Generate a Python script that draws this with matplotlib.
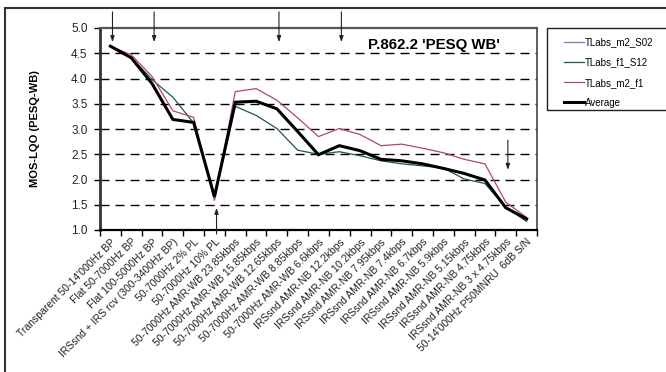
import matplotlib.pyplot as plt
from matplotlib.patches import Rectangle

plt.rcParams["font.family"] = ["Liberation Sans", "DejaVu Sans"]

conditions = [
    "Transparent 50-14'000Hz BP",
    "Flat 50-7000Hz BP",
    "Flat 100-5000Hz BP",
    "IRSsnd + IRS rcv (300-3400Hz BP)",
    "50-7000Hz 2% PL",
    "50-7000Hz 10% PL",
    "50-7000Hz AMR-WB 23.85kbps",
    "50-7000Hz AMR-WB 15.85kbps",
    "50-7000Hz AMR-WB 12.65kbps",
    "50-7000Hz AMR-WB 8.85kbps",
    "50-7000Hz AMR-WB 6.6kbps",
    "IRSsnd AMR-NB 12.2kbps",
    "IRSsnd AMR-NB 10.2kbps",
    "IRSsnd AMR-NB 7.95kbps",
    "IRSsnd AMR-NB 7.4kbps",
    "IRSsnd AMR-NB 6.7kbps",
    "IRSsnd AMR-NB 5.9kbps",
    "IRSsnd AMR-NB 5.15kbps",
    "IRSsnd AMR-NB 4.75kbps",
    "IRSsnd AMR-NB 3 x 4.75kbps",
    "50-14'000Hz P50MNRU  6dB S/N",
]

tlabs_m2_s02 = [4.64, 4.41, 3.90, 3.19, 3.13, 1.66, 3.53, 3.55, 3.40, 2.95, 2.49,
                2.67, 2.57, 2.40, 2.37, 2.31, 2.22, 2.12, 1.99, 1.44, 1.22]
tlabs_f1_s12 = [4.64, 4.42, 3.98, 3.63, 3.12, 1.62, 3.45, 3.27, 3.01, 2.58, 2.50,
                2.55, 2.47, 2.37, 2.31, 2.27, 2.23, 2.01, 1.92, 1.45, 1.17]
tlabs_m2_f1 = [4.64, 4.47, 4.04, 3.36, 3.23, 1.58, 3.74, 3.80, 3.57, 3.22, 2.85,
               3.01, 2.89, 2.67, 2.70, 2.62, 2.53, 2.40, 2.31, 1.55, 1.25]
average = [4.64, 4.41, 3.90, 3.19, 3.13, 1.66, 3.53, 3.55, 3.40, 2.95, 2.49,
           2.67, 2.57, 2.40, 2.37, 2.31, 2.22, 2.12, 1.99, 1.44, 1.22]

y_ticks = [1.0, 1.5, 2.0, 2.5, 3.0, 3.5, 4.0, 4.5, 5.0]

# marker arrows: (category, start value, tip value)
arrows = [(0, 5.32, 4.72), (2, 5.32, 4.72), (8, 5.32, 4.72), (11, 5.32, 4.72),
          (19, 2.78, 2.19), (5, 0.92, 1.44)]

W, H = 666, 372
fig = plt.figure(figsize=(W / 100, H / 100), dpi=100)
ax = fig.add_axes([100 / W, 1 - 230 / H, 437 / W, 202 / H])

x = list(range(len(conditions)))
series = [
    ("TLabs_m2_S02", tlabs_m2_s02, "#7a7ad0", 0.9),
    ("TLabs_f1_S12", tlabs_f1_s12, "#1e5a3c", 0.9),
    ("TLabs_m2_f1", tlabs_m2_f1, "#b3437a", 0.9),
    ("Average", average, "black", 2.2),
]
handles = []
for name, vals, color, lw in series:
    (ln,) = ax.plot(x, vals, color=color, lw=lw, label=name, zorder=3,
                    solid_joinstyle="miter")
    handles.append(ln)

ax.set_xlim(-0.5, len(conditions) - 0.5)
ax.set_ylim(1.0, 5.0)
ax.set_yticks(y_ticks)
ax.set_yticklabels([f"{v:.1f}" for v in y_ticks], fontsize=8.5, color="#222222")
for v in y_ticks[1:-1]:
    ax.axhline(v, color="black", lw=1.0, dashes=(6.5, 4.3), zorder=1)

ax.set_xticks(x)
ax.set_xticklabels(conditions, rotation=45, ha="right", va="top",
                   rotation_mode="anchor", fontsize=7.5, color="#222222")
ax.set_xticks([i - 0.5 for i in range(len(conditions) + 1)], minor=True)
ax.tick_params(axis="x", which="major", length=0, pad=5)
ax.tick_params(axis="x", which="minor", length=4, width=1.0, direction="out")
ax.tick_params(axis="y", length=4, width=1.0, direction="out", pad=5)

ax.spines["left"].set_linewidth(2.0)
ax.spines["left"].set_color("#333333")
ax.spines["bottom"].set_linewidth(1.6)
ax.spines["top"].set_linewidth(1.6)
ax.spines["top"].set_color("#555555")
ax.spines["right"].set_linewidth(1.2)
ax.spines["right"].set_color("#444444")

ax.set_ylabel("MOS-LQO (PESQ-WB)", fontsize=8, fontweight="bold", labelpad=22)

ax.text(0.765, 0.915, "P.862.2 'PESQ WB'", transform=ax.transAxes,
        ha="center", va="center", fontsize=10.8, fontweight="bold")

for cat, y0, y1 in arrows:
    ax.annotate("", xy=(cat + 0.1, y1), xytext=(cat + 0.1, y0),
                annotation_clip=False,
                arrowprops=dict(arrowstyle="-|>,head_length=0.35,head_width=0.12",
                                color="#222222", lw=0.8, shrinkA=0, shrinkB=0),
                zorder=4)

# legend box runs off the right edge
fig.patches.append(Rectangle((547 / W, 1 - 110 / H), 140 / W, 82 / H,
                             transform=fig.transFigure, fill=False,
                             ec="#222222", lw=1.0))
fig.legend(handles=handles, loc="upper left", bbox_to_anchor=(555 / W, 1 - 28 / H),
           frameon=False, fontsize=7, handlelength=2.0, handletextpad=0.1,
           labelspacing=1.05, borderpad=0.45)

# outer chart-area border
fig.patches.append(Rectangle((5 / W, -0.1), 1.0, (H - 8) / H + 0.1,
                             transform=fig.transFigure, fill=False,
                             ec="#333333", lw=1.5))

fig.savefig("out.png", dpi=100, facecolor="white")
